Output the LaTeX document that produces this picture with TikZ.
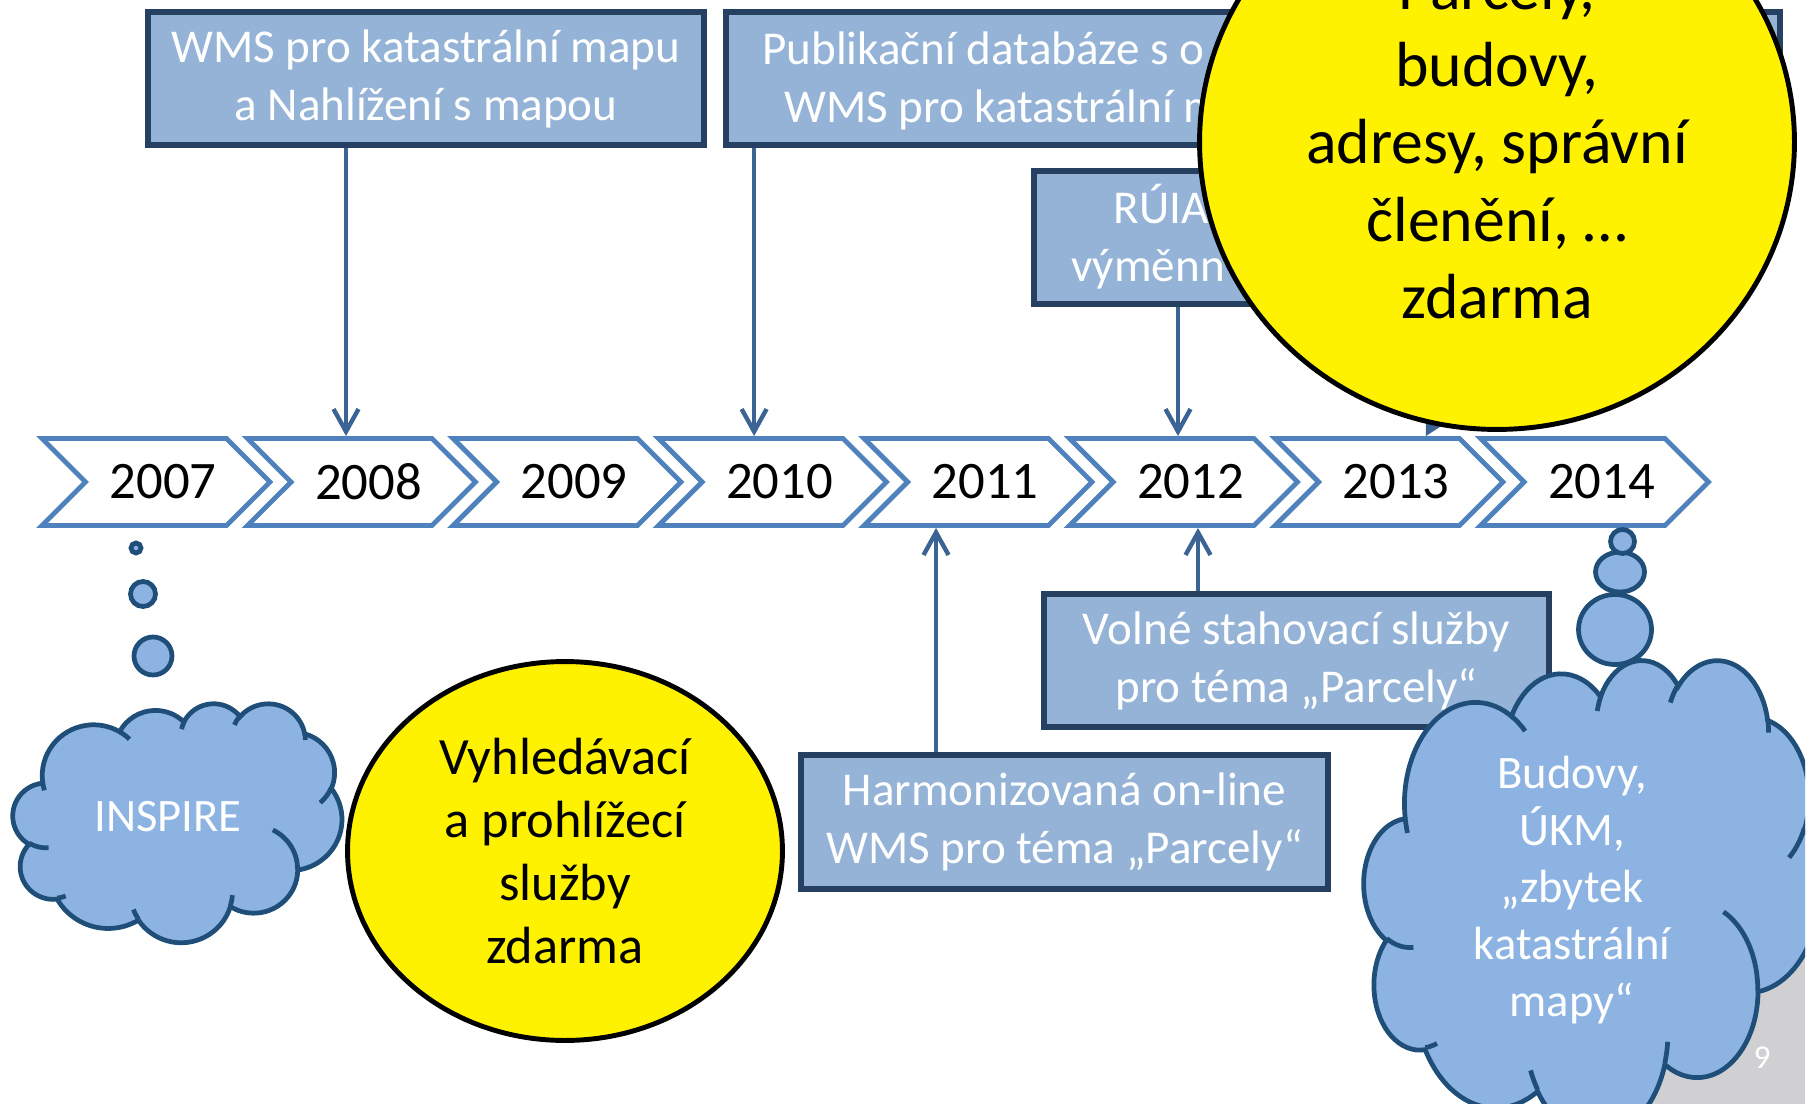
\documentclass[tikz,border=0pt]{standalone}
\usepackage{fontspec}
\setmainfont{Carlito}
\usepackage{tikz}
\usetikzlibrary{arrows.meta, shapes.geometric, shapes.symbols}
\definecolor{boxfill}{HTML}{95B3D7}
\definecolor{boxline}{HTML}{254061}
\definecolor{chevline}{HTML}{4F81BD}
\definecolor{linkcol}{HTML}{3B6494}
\definecolor{cloudfill}{HTML}{8DB3E2}
\definecolor{cloudline}{HTML}{1F4E79}
\definecolor{footgray}{HTML}{D0D0D2}
\tikzset{
    year/.style = {signal, signal from=west, signal to=east, signal pointer angle=90,
                   draw=chevline, fill=white, line width=2.8pt, inner sep=0pt,
                   minimum width=4.56cm, minimum height=1.74cm,
                   execute at begin node={\hspace*{0.28cm}},
                   font=\fontsize{30}{36}\selectfont},
    box/.style = {rectangle, draw=boxline, fill=boxfill, line width=3.2pt, inner sep=0pt,
                  text=white, align=center, font=\fontsize{26.8}{33}\selectfont,
                  execute at begin node={\rule{0pt}{0.82cm}}},
    boxtext/.style = {inner sep=0pt, text=white, font=\fontsize{26.8}{33}\selectfont},
    sun/.style = {ellipse, draw=black, fill=yellow, line width=2.8pt, inner sep=0pt, align=center},
    cloudtext/.style = {inner sep=0pt, text=white, align=center, font=\fontsize{26.5}{32.4}\selectfont},
    puff/.style = {draw=cloudline, fill=cloudfill, line width=2.7pt},
    link/.style = {draw=linkcol, line width=2.5pt, -{Straight Barb[length=0.45cm, width=0.5cm]}},
    oarc/.style n args = {4}{x radius=#1, y radius=#2,
        start angle={atan2(#1*sin(#3),#2*cos(#3))},
        delta angle={mod(atan2(#1*sin(#3+#4),#2*cos(#3+#4))-atan2(#1*sin(#3),#2*cos(#3))+720,360)}},
    pics/cloudpic/.style = {code={
        \draw[puff] (39,143.7)
            arc[oarc={67.53}{91.90}{-190.49}{123.78}]
            arc[oarc={53.33}{72.67}{-144.10}{89.95}]
            arc[oarc={43.65}{59.45}{-145.81}{99.72}]
            arc[oarc={48.57}{65.95}{-130.99}{117.24}]
            arc[oarc={53.33}{72.73}{-78.71}{109.03}]
            arc[oarc={67.75}{92.20}{-46.27}{130.27}]
            arc[oarc={57.85}{78.67}{0.63}{114.03}]
            arc[oarc={67.52}{92.15}{22.45}{115.17}]
            arc[oarc={77.20}{105.43}{66.24}{75.71}]
            arc[oarc={43.60}{59.18}{-274.94}{146.74}]
            arc[oarc={43.45}{59.45}{-246.83}{152.52}] -- cycle;
        \draw[puff, fill=none]
            (46.93,261.77) arc[oarc={43.45}{59.45}{86.74}{26.43}]
            (69.28,348.99) arc[oarc={43.60}{59.18}{73.61}{11.45}]
            (164.78,390.90) arc[oarc={67.52}{92.15}{137.62}{14.08}]
            (288.27,347.51) arc[oarc={67.52}{92.15}{6.45}{16.00}]
            (341.29,229.54) arc[oarc={57.85}{78.67}{-70.29}{70.92}]
            (417.98,153.54) arc[oarc={53.33}{72.73}{30.32}{27.75}]
            (383.24,54.26) arc[oarc={48.57}{65.95}{-13.74}{14.86}]
            (290.78,39.52) arc[oarc={48.57}{65.95}{-149.18}{18.20}]
            (221.41,47.20) arc[oarc={43.65}{59.45}{-163.49}{17.69}]
            (140.00,51.92) arc[oarc={67.53}{91.90}{-66.71}{12.32}]
            (41.27,157.89) arc[oarc={67.53}{91.90}{157.65}{11.86}];
    }}
}

\begin{document}
\begin{tikzpicture}[
      x = 0.02cm, % one pixel
      y = -0.02cm
    ]
    \useasboundingbox (0,0) rectangle (1814,1104);
    \clip (0,0) rectangle (1814,1104);

    % slide corner
    \fill[footgray] (1640,955) rectangle (1805,1104);
    \node[text=white, font=\fontsize{19}{22}\selectfont] (pg) at (1762,1058) {9};

    \node[year] (2007) at (156,482) {2007};
    \node[year] (2008) at (361.5,482) {2008};
    \node[year] (2009) at (567,482) {2009};
    \node[year] (2010) at (772.5,482) {2010};
    \node[year] (2011) at (978,482) {2011};
    \node[year] (2012) at (1183.5,482) {2012};
    \node[year] (2013) at (1389,482) {2013};
    \node[year] (2014) at (1594.5,482) {2014};

    \node[box, minimum width=11.12cm, minimum height=2.66cm] (1) at (426,78.5) {WMS pro katastrální mapu\\a Nahlížení s mapou};
    \node[box, minimum width=21.08cm, minimum height=2.66cm] (2) at (1253,78.5) {};
    \node[boxtext, anchor=base west] (2a) at (762,65) {Publikační databáze s o};
    \node[boxtext, anchor=base west] (2b) at (784,123) {WMS pro katastrální m};
    \node[box, minimum width=5.76cm, minimum height=2.66cm] (3) at (1178,237.5) {};
    \node[boxtext, anchor=base west] (3a) at (1113.5,224) {RÚIA};
    \node[boxtext, anchor=base west] (3b) at (1071,282) {výměnn};
    \node[box, minimum width=10.54cm, minimum height=2.68cm] (4) at (1064.5,822) {Harmonizovaná on-line\\WMS pro téma „Parcely“};
    \node[box, minimum width=10.1cm, minimum height=2.66cm] (5) at (1296.5,660.5) {Volné stahovací služby\\pro téma „Parcely“};

    \draw[link] ([xshift=-1.6cm]1.south) -- ([xshift=-1.6cm]1.south |- 2008.north);
    \draw[link] ([xshift=-9.98cm]2.south) -- ([xshift=-9.98cm]2.south |- 2010.north);
    \draw[link] (3.south) -- (3.south |- 2012.north);
    \draw[link, -{Triangle[left, length=0.32cm, width=0.96cm]}] ([xshift=3.5cm]2.south) -- ([xshift=3.5cm]2.south |- 2013.north);
    \draw[link] ([xshift=-2.57cm]4.north) -- ([xshift=-2.57cm]4.north |- 2011.south);
    \draw[link] ([xshift=-1.97cm]5.north) -- ([xshift=-1.97cm]5.north |- 2012.south);

    % thought bubbles
    \draw[puff] (136,548) circle[radius=5];
    \draw[puff] (143,594) circle[radius=12.5];
    \draw[puff] (153,656) circle[radius=19];
    \draw[puff] (1615,629.5) circle[x radius=36.5, y radius=35];
    \draw[puff] (1620,572) circle[x radius=24.5, y radius=20];
    \draw[puff] (1622.5,541.5) circle[radius=12];

    \begin{scope}[shift={(13,703)}, x=0.015231cm, y=-0.011065cm]
        \pic {cloudpic};
    \end{scope}
    \node[cloudtext] (inspire) at (168,817) {INSPIRE};

    \begin{scope}
        \clip (0,0) rectangle (1805,1104);
        \begin{scope}[shift={(1364,659)}, x=0.021065cm, y=-0.022037cm]
            \pic {cloudpic};
        \end{scope}
    \end{scope}
    \node[cloudtext] (budovy) at (1572,890) {Budovy,\\ÚKM,\\„zbytek\\katastrální\\mapy“};

    \node[sun, minimum width=8.7cm, minimum height=7.58cm, font=\fontsize{29.8}{35.9}\selectfont] (6) at (565,851) {Vyhledávací\\a prohlížecí\\služby\\zdarma};
    \node[sun, minimum width=11.9cm, minimum height=11.5cm, font=\fontsize{36.3}{44}\selectfont,
          execute at begin node={\rule{0pt}{1.08cm}}] (7) at (1497,142) {Parcely,\\budovy,\\adresy, správní\\členění, …\\zdarma};
\end{tikzpicture}
\end{document}
